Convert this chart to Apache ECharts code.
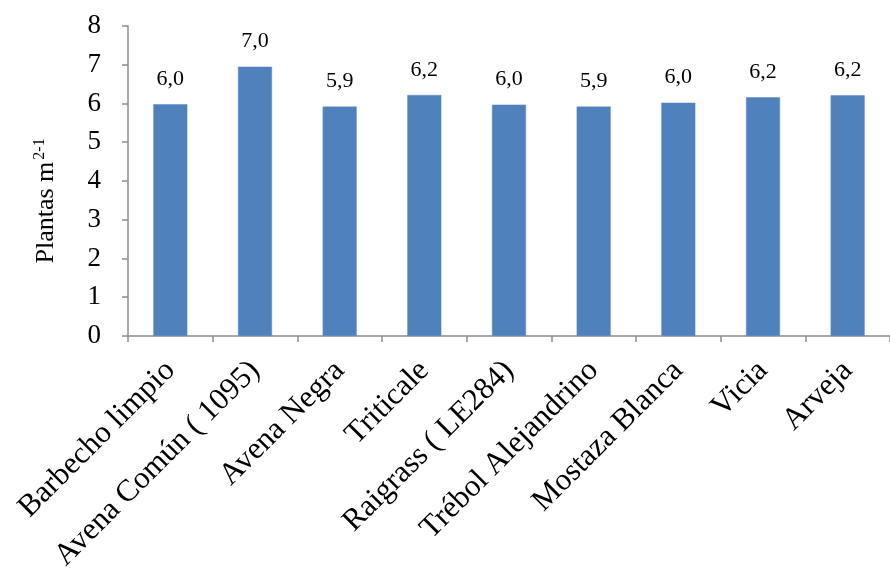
<!DOCTYPE html>
<html>
<head>
<meta charset="utf-8">
<script src="https://cdn.jsdelivr.net/npm/echarts@6/dist/echarts.min.js"></script>
<style>
  html, body { margin: 0; padding: 0; background: #fff; }
  #chart { width: 890px; height: 574px; }
</style>
</head>
<body>
<div id="chart"></div>
<script>
// Plant density per treatment (plants per m²)
const categories = [
  'Barbecho limpio',
  'Avena Común ( 1095)',
  'Avena Negra',
  'Triticale',
  'Raigrass ( LE284)',
  'Trébol Alejandrino',
  'Mostaza Blanca',
  'Vicia',
  'Arveja'
];
const plantas = [5.98, 6.95, 5.92, 6.22, 5.97, 5.92, 6.02, 6.16, 6.21];
const yTicks = [0, 1, 2, 3, 4, 5, 6, 7, 8];

const serif = '"Liberation Serif", "Times New Roman", serif';
const axisGray = '#8c8c8c';

const chart = echarts.init(document.getElementById('chart'), null, { renderer: 'canvas' });

chart.setOption({
  backgroundColor: '#ffffff',
  animation: false,
  grid: { left: 128, right: -10, top: 26, bottom: 238, containLabel: false },
  xAxis: {
    type: 'category',
    data: categories,
    boundaryGap: true,
    axisLine: { show: true, lineStyle: { color: axisGray, width: 1.5 } },
    axisTick: { show: true, alignWithLabel: false, length: 6, lineStyle: { color: axisGray, width: 1.5 } },
    axisLabel: {
      interval: 0,
      rotate: 45,
      margin: 30,
      color: '#000',
      fontFamily: serif,
      fontSize: 31
    },
    splitLine: { show: false }
  },
  yAxis: {
    type: 'value',
    min: yTicks[0],
    max: yTicks[yTicks.length - 1],
    interval: 1,
    name: '{base|Plantas m}{sup|2-1}',
    nameLocation: 'middle',
    nameGap: 68,
    nameRotate: 90,
    nameTextStyle: {
      padding: [0, 40, 0, 0],
      rich: {
        base: { fontFamily: serif, fontSize: 26, color: '#000' },
        sup: { fontFamily: serif, fontSize: 16, color: '#000', verticalAlign: 'top', padding: [0, 0, 12, 2] }
      }
    },
    axisLine: { show: true, lineStyle: { color: axisGray, width: 1.5 } },
    axisTick: { show: true, inside: false, length: 6, lineStyle: { color: axisGray, width: 1.5 } },
    axisLabel: {
      margin: 27,
      color: '#000',
      fontFamily: serif,
      fontSize: 27,
      formatter: v => String(v)
    },
    splitLine: { show: false }
  },
  series: [{
    type: 'bar',
    data: plantas,
    barWidth: 34,
    itemStyle: { color: '#4f81bd', borderColor: '#5a8ac6', borderWidth: 0.5 },
    label: {
      show: true,
      position: 'top',
      distance: 14,
      color: '#000',
      fontFamily: serif,
      fontSize: 22,
      formatter: p => p.value.toFixed(1).replace('.', ',')
    }
  }]
});
</script>
</body>
</html>
